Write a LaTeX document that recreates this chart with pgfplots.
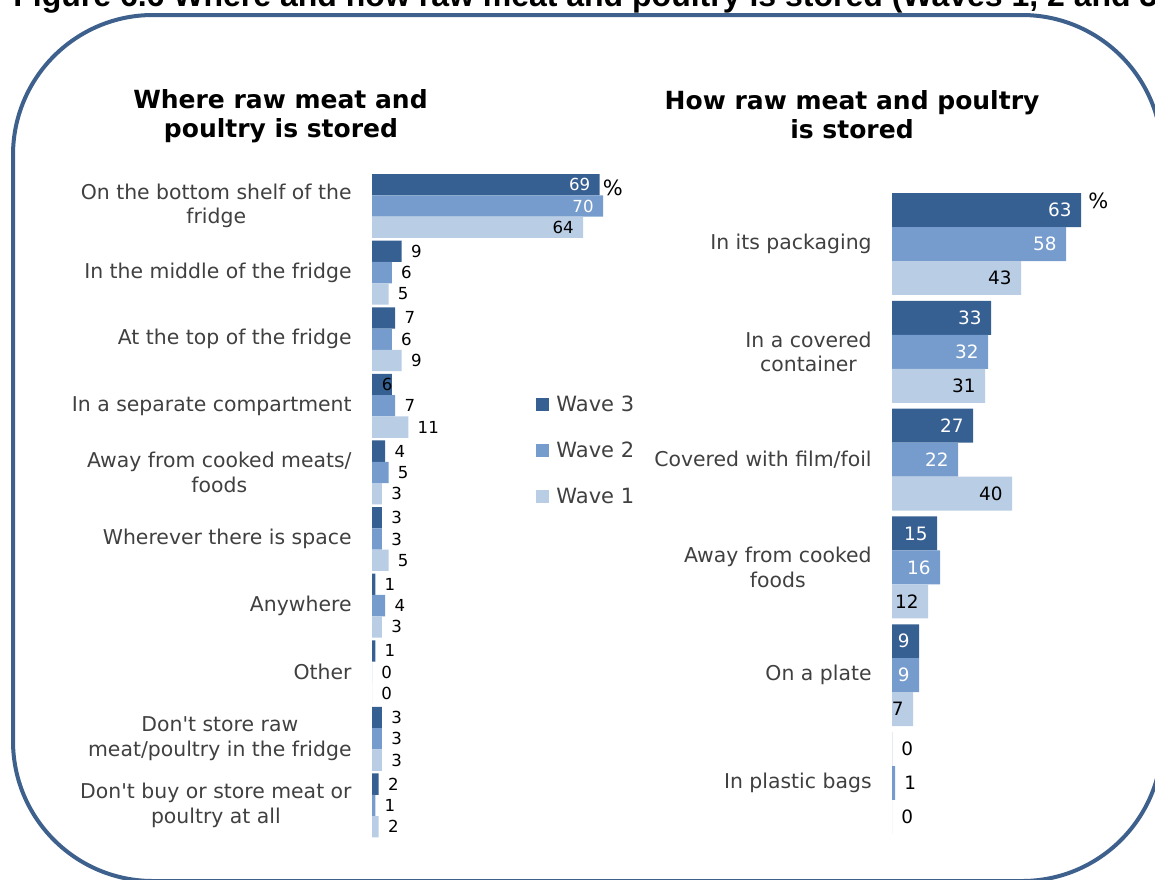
\documentclass[border=0pt]{standalone}
\usepackage{fontspec}
\setmainfont{DejaVu Sans}
\newfontfamily\headfont{Liberation Sans}
\usepackage{pgfplots}
\pgfplotsset{compat=1.18}
\usepackage{pgfplotstable}

\definecolor{wthree}{RGB}{55,96,146}
\definecolor{wtwo}{RGB}{117,156,204}
\definecolor{wone}{RGB}{185,205,229}
\definecolor{framec}{RGB}{62,96,140}
\definecolor{lbl}{RGB}{64,64,64}

% ins = 1: label inside bar end; wht = 100: white label text; dx = extra shift (pt)
% Left chart: Where raw meat and poultry is stored
\pgfplotstableread{
y x ins wht dx
0 69 1 100 0
1 9 0 0 0
2 7 0 0 0
3 6 1 0 5
4 4 0 0 0
5 3 0 0 0
6 1 0 0 0
7 1 0 0 0
8 3 0 0 0
9 2 0 0 0
}\LThree
\pgfplotstableread{
y x ins wht dx
0 70 1 100 0
1 6 0 0 0
2 6 0 0 0
3 7 0 0 0
4 5 0 0 0
5 3 0 0 0
6 4 0 0 0
7 0 0 0 0
8 3 0 0 0
9 1 0 0 0
}\LTwo
\pgfplotstableread{
y x ins wht dx
0 64 1 0 0
1 5 0 0 0
2 9 0 0 0
3 11 0 0 0
4 3 0 0 0
5 5 0 0 0
6 3 0 0 0
7 0 0 0 0
8 3 0 0 0
9 2 0 0 0
}\LOne
% Right chart: How raw meat and poultry is stored
\pgfplotstableread{
y x ins wht dx
0 63 1 100 0
1 33 1 100 0
2 27 1 100 0
3 15 1 100 0
4 9 1 100 0
5 0 0 0 0
}\RThree
\pgfplotstableread{
y x ins wht dx
0 58 1 100 0
1 32 1 100 0
2 22 1 100 0
3 16 1 100 0
4 9 1 100 0
5 1 0 0 0
}\RTwo
\pgfplotstableread{
y x ins wht dx
0 43 1 0 0
1 31 1 0 0
2 40 1 0 0
3 12 1 0 0
4 7 1 0 0
5 0 0 0 0
}\ROne

\pgfplotsset{mybar/.style={
  scale only axis, xbar, xmin=0, xmax=100, y dir=reverse,
  axis line style={draw=none}, xtick=\empty, ytick style={draw=none},
  major tick length=0pt, clip=false, bar width=0.32, point meta=x,
  nodes near coords,
  visualization depends on={\thisrow{ins}\as\myins},
  visualization depends on={\thisrow{wht}\as\mywht},
  visualization depends on={\thisrow{dx}\as\mydx},
  every node near coord/.append style={anchor=\ifdim\myins pt>0.5pt east\else west\fi,
     text=white!\mywht!black, xshift=\mydx pt,
     font=\fontsize{8.3}{10}\selectfont, inner xsep=4.5pt},
  /pgf/number format/assume math mode=true,
  yticklabel style={align=center, font=\fontsize{10.2}{12.3}\selectfont, text=lbl,
     inner sep=0pt, xshift=-10pt},
  legend image code/.code={\fill[##1] (0pt,-3.25pt) rectangle (6.5pt,3.25pt);},
}}

\begin{document}
\begin{tikzpicture}
\path[use as bounding box] (0,0) rectangle (577.5pt,-439.5pt);
\clip (0,0) rectangle (577.5pt,-439.5pt);
\node[anchor=base west, inner sep=0pt, font=\headfont\bfseries\fontsize{16}{19}\selectfont] at (6.5pt,-3pt)
  {Figure 6.6 Where and how raw meat and poultry is stored (Waves 1, 2 and 3)};
\draw[framec, line width=2pt, rounded corners=70pt] (6.5pt,-7.5pt) rectangle (581pt,-440.5pt);

\begin{scope}[every node/.style={anchor=base, inner sep=0pt, font=\bfseries\fontsize{12.5}{14.5}\selectfont}]
\node at (140.25pt,-54pt) {Where raw meat and};
\node at (140.5pt,-68.5pt) {poultry is stored};
\node at (426pt,-54.5pt) {How raw meat and poultry};
\node at (426pt,-69pt) {is stored};
\end{scope}

\begin{axis}[mybar, at={(268.5pt,-252.85pt)}, anchor=center,
  width=165pt, height=333pt, ymin=-0.5, ymax=9.5,
  ytick={0,...,9},
  yticklabels={{On the bottom shelf of the\\fridge},{In the middle of the fridge},{At the top of the fridge},{In a separate compartment},{Away from cooked meats/\\foods},{Wherever there is space},{Anywhere},{Other},{Don\textquotesingle t store raw\\meat/poultry in the fridge},{Don\textquotesingle t buy or store meat or\\poultry at all}},
  legend style={at={(axis cs:47.9,3.664)}, anchor=west, draw=none, fill=none,
     font=\fontsize{10.5}{12}\selectfont, text=lbl, row sep=15.3pt,
     nodes={inner sep=0pt, text height=7.7pt, text depth=0pt},
     /tikz/every odd column/.append style={column sep=3.5pt}},
  legend cell align=left,
]
\addplot[fill=wthree, draw=none, bar shift=-0.32] table[x=x,y=y] \LThree;
\addlegendentry{Wave 3}
\addplot[fill=wtwo, draw=none, bar shift=0] table[x=x,y=y] \LTwo;
\addlegendentry{Wave 2}
\addplot[fill=wone, draw=none, bar shift=0.32] table[x=x,y=y] \LOne;
\addlegendentry{Wave 1}
\node[font=\fontsize{10.5}{12}\selectfont, inner sep=0pt] at (axis cs:73,-0.27) {\%};
\end{axis}

\begin{axis}[mybar, at={(521pt,-256.75pt)}, anchor=center,
  width=150pt, height=323.4pt, ymin=-0.5, ymax=5.5, bar width=0.315,
  ytick={0,...,5},
  yticklabels={{In its packaging},{In a covered\\container},{Covered with film/foil},{Away from cooked\\foods},{On a plate},{In plastic bags}},
  every node near coord/.append style={font=\fontsize{9.2}{11}\selectfont},
]
\addplot[fill=wthree, draw=none, bar shift=-0.315] table[x=x,y=y] \RThree;
\addplot[fill=wtwo, draw=none, bar shift=0] table[x=x,y=y] \RTwo;
\addplot[fill=wone, draw=none, bar shift=0.315] table[x=x,y=y] \ROne;
\node[font=\fontsize{10.5}{12}\selectfont, inner sep=0pt] at (axis cs:68.8,-0.40) {\%};
\end{axis}
\end{tikzpicture}
\end{document}
